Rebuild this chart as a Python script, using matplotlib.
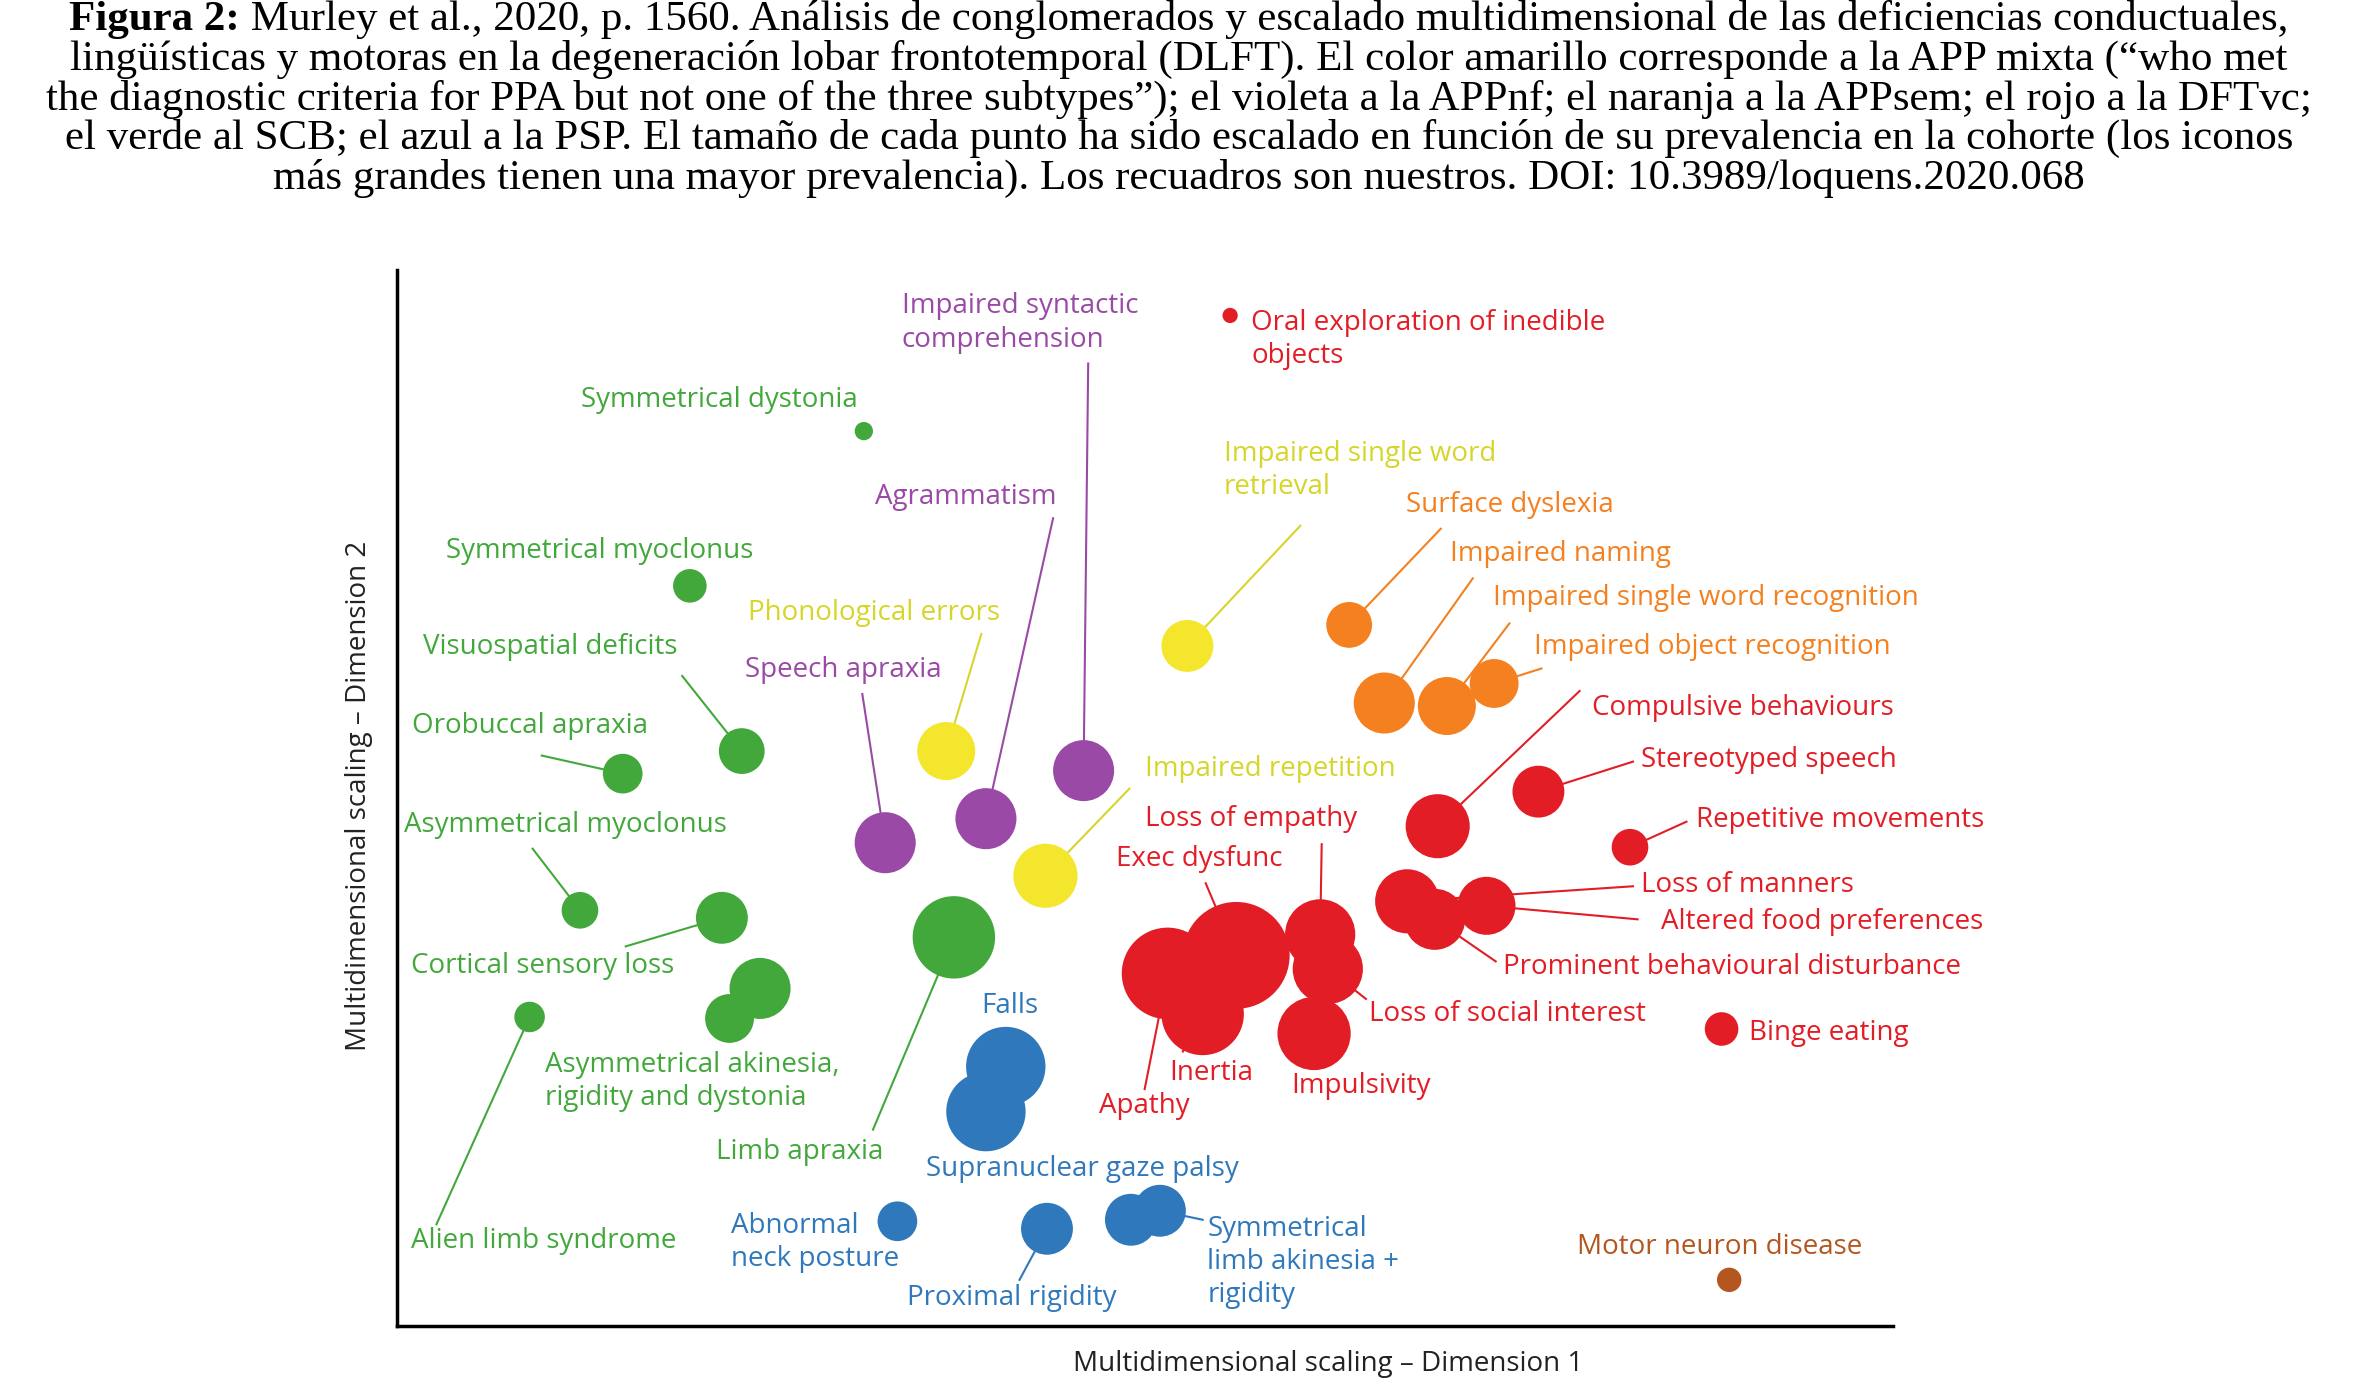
import matplotlib.pyplot as plt
import numpy as np

GREEN = '#43a83c'
PURPLE = '#9a4aa6'
YELLOW = '#f3e62c'
YTEXT = '#d6d52a'
ORANGE = '#f4801f'
RED = '#e31d25'
BLUE = '#2f78bb'
BROWN = '#b4561f'

# point positions measured on the reference (picture pixels), radius, colour group
pt_x = [566, 452, 486, 408, 380, 473, 498, 478, 347, 625,
        580, 646, 710,
        620, 685, 778,
        884, 907, 948, 979,
        806, 942, 1008, 1068, 922, 974, 940, 865, 870, 810, 765, 788, 861, 1128,
        659, 646, 588, 686, 741, 760,
        1133]
pt_y = [287, 390, 500, 515, 606, 611, 658, 678, 677, 624,
        561, 545, 513,
        500, 583, 430,
        416, 468, 470, 455,
        210, 550, 527, 564, 600, 603, 612, 622, 645, 636, 648, 675, 688, 685,
        710, 740, 813, 818, 812, 806,
        852]
pt_r = [6, 11, 15, 13, 12, 17, 20, 16, 10, 27,
        20, 20, 20,
        19, 21, 17,
        15, 20, 19, 16,
        5, 21, 17, 12, 21, 19, 20, 23, 23, 35, 30, 27, 24, 11,
        26, 26, 13, 17, 17, 17,
        8]
pt_c = [GREEN] * 10 + [PURPLE] * 3 + [YELLOW] * 3 + [ORANGE] * 4 + [RED] * 14 + [BLUE] * 6 + [BROWN]

# labels: text, left x, centre y, colour, leader line start (or None), index of point
labels = [
    ("Symmetrical dystonia", 381, 266, GREEN, None, None),
    ("Symmetrical myoclonus", 292, 367, GREEN, None, None),
    ("Visuospatial deficits", 277, 431, GREEN, (447, 450), 2),
    ("Orobuccal apraxia", 270, 483, GREEN, (355, 503), 3),
    ("Asymmetrical myoclonus", 265, 549, GREEN, (349, 565), 4),
    ("Cortical sensory loss", 269, 643, GREEN, (410, 630), 5),
    ("Asymmetrical akinesia,\nrigidity and dystonia", 357, 720, GREEN, None, None),
    ("Limb apraxia", 469, 767, GREEN, (572, 752), 9),
    ("Alien limb syndrome", 269, 826, GREEN, (286, 815), 8),
    ("Impaired syntactic\ncomprehension", 591, 215, PURPLE, (713, 242), 12),
    ("Agrammatism", 573, 331, PURPLE, (690, 345), 11),
    ("Speech apraxia", 488, 446, PURPLE, (565, 462), 10),
    ("Phonological errors", 490, 408, YTEXT, (643, 422), 13),
    ("Impaired repetition", 750, 512, YTEXT, (740, 525), 14),
    ("Impaired single word\nretrieval", 802, 313, YTEXT, (852, 350), 15),
    ("Surface dyslexia", 921, 336, ORANGE, (944, 352), 16),
    ("Impaired naming", 950, 369, ORANGE, (965, 385), 17),
    ("Impaired single word recognition", 978, 398, ORANGE, (989, 415), 18),
    ("Impaired object recognition", 1005, 431, ORANGE, (1010, 445), 19),
    ("Oral exploration of inedible\nobjects", 820, 226, RED, None, None),
    ("Compulsive behaviours", 1043, 471, RED, (1035, 460), 21),
    ("Stereotyped speech", 1075, 506, RED, (1070, 507), 22),
    ("Repetitive movements", 1111, 546, RED, (1105, 547), 23),
    ("Loss of empathy", 750, 545, RED, (866, 562), 27),
    ("Exec dysfunc", 731, 572, RED, (790, 588), 29),
    ("Loss of manners", 1075, 589, RED, (1070, 590), 24),
    ("Altered food preferences", 1088, 614, RED, (1073, 612), 25),
    ("Prominent behavioural disturbance", 985, 644, RED, (980, 640), 26),
    ("Loss of social interest", 897, 675, RED, (895, 665), 28),
    ("Binge eating", 1146, 688, RED, None, None),
    ("Inertia", 766, 714, RED, (775, 700), 31),
    ("Apathy", 720, 736, RED, (750, 725), 30),
    ("Impulsivity", 846, 723, RED, None, None),
    ("Falls", 643, 670, BLUE, None, None),
    ("Supranuclear gaze palsy", 607, 778, BLUE, None, None),
    ("Abnormal\nneck posture", 479, 827, BLUE, None, None),
    ("Proximal rigidity", 594, 864, BLUE, (668, 852), 37),
    ("Symmetrical\nlimb akinesia +\nrigidity", 791, 840, BLUE, (788, 812), 39),
    ("Motor neuron disease", 1033, 830, BROWN, None, None),
]

title_bold = "Figura 2:"
title_lines = [
    " Murley et al., 2020, p. 1560. Análisis de conglomerados y escalado multidimensional de las deficiencias conductuales,",
    "lingüísticas y motoras en la degeneración lobar frontotemporal (DLFT). El color amarillo corresponde a la APP mixta (“who met",
    "the diagnostic criteria for PPA but not one of the three subtypes”); el violeta a la APPnf; el naranja a la APPsem; el rojo a la DFTvc;",
    "el verde al SCB; el azul a la PSP. El tamaño de cada punto ha sido escalado en función de su prevalencia en la cohorte (los iconos",
    "más grandes tienen una mayor prevalencia). Los recuadros son nuestros. DOI: 10.3989/loquens.2020.068",
]

W, H = 1545, 922  # reference measured in these units
X0, Y0, X1, Y1 = 260, 180, 1240, 883

fig = plt.figure(figsize=(23.58, 13.85), dpi=100)
ax = fig.add_axes([X0 / W, 1 - Y1 / H, (X1 - X0) / W, (Y1 - Y0) / H])
ax.set_xlim(0, X1 - X0)
ax.set_ylim(0, Y1 - Y0)
for s in ['top', 'right']:
    ax.spines[s].set_visible(False)
for s in ['left', 'bottom']:
    ax.spines[s].set_linewidth(2.5)
ax.set_xticks([])
ax.set_yticks([])

d1 = np.array(pt_x) - X0
d2 = Y1 - np.array(pt_y)
sizes = 4.83 * np.array(pt_r) ** 2

for text, tx, ty, col, start, idx in labels:
    if start is not None:
        ax.plot([start[0] - X0, d1[idx]], [Y1 - start[1], d2[idx]], color=col,
                lw=1.5, zorder=1)
    ax.text(tx - X0, Y1 - ty, text, color=col, fontsize=20, family='Open Sans',
            ha='left', va='center', linespacing=1.25, zorder=3)

ax.scatter(d1, d2, s=sizes, c=pt_c, edgecolors='none', zorder=2, clip_on=False)

ax.text(870 - X0, -25, "Multidimensional scaling – Dimension 1", ha='center',
        va='center', fontsize=20, family='Open Sans', color='#222222')
ax.text(235 - X0, Y1 - 530, "Multidimensional scaling – Dimension 2", ha='center',
        va='center', rotation=90, fontsize=20, family='Open Sans', color='#222222')

# title: bold prefix + regular rest on the first line, centred together
tsize = 31
renderer = fig.canvas.get_renderer()
fw = fig.bbox.width
for i, line in enumerate(title_lines):
    y = 1 - (13 + 26.5 * i) / H
    if i == 0:
        tb = fig.text(0, y, title_bold, ha='left', va='center', fontsize=tsize,
                      family='Liberation Serif', weight='bold')
        tr = fig.text(0, y, line, ha='left', va='center', fontsize=tsize,
                      family='Liberation Serif')
        wb = tb.get_window_extent(renderer).width
        wr = tr.get_window_extent(renderer).width
        left = (fw - wb - wr) / 2
        tb.set_x(left / fw)
        tr.set_x((left + wb) / fw)
    else:
        fig.text(0.5, y, line, ha='center', va='center', fontsize=tsize,
                 family='Liberation Serif')

fig.savefig('out.png', dpi=100)
